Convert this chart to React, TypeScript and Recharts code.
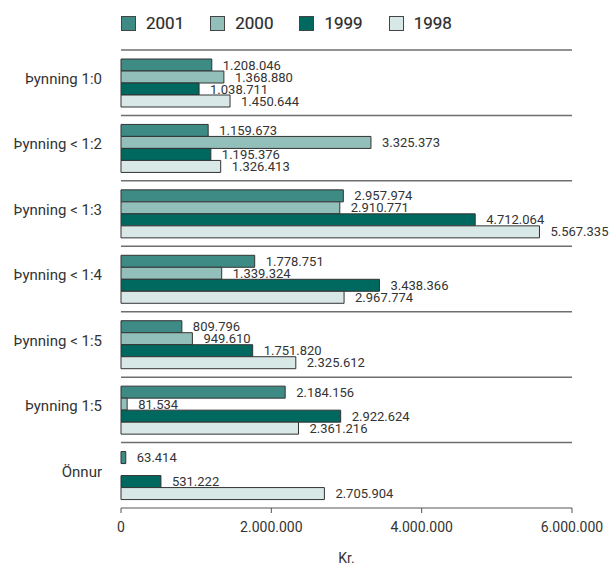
import React from 'react';
import { BarChart, Bar, XAxis, YAxis, CartesianGrid, LabelList } from 'recharts';

const categories = [
  'Þynning 1:0',
  'Þynning < 1:2',
  'Þynning < 1:3',
  'Þynning < 1:4',
  'Þynning < 1:5',
  'Þynning 1:5',
  'Önnur',
];

const years = ['2001', '2000', '1999', '1998'];
const colors = ['#3d8b84', '#93bfbb', '#00695f', '#d8e8e7'];

const v2001 = [1208046, 1159673, 2957974, 1778751, 809796, 2184156, 63414];
const v2000 = [1368880, 3325373, 2910771, 1339324, 949610, 81534, null];
const v1999 = [1038711, 1195376, 4712064, 3438366, 1751820, 2922624, 531222];
const v1998 = [1450644, 1326413, 5567335, 2967774, 2325612, 2361216, 2705904];

const xTicks = [0, 2000000, 4000000, 6000000];

const seriesValues = [v2001, v2000, v1999, v1998];

const chartData = categories.map((name, i) => {
  const row: Record<string, any> = { name };
  years.forEach((y, k) => {
    row[y] = seriesValues[k][i];
  });
  return row;
});

const fmt = (n: any) => {
  if (n === null || n === undefined || n === '') return '';
  return String(n).replace(/\B(?=(\d{3})+(?!\d))/g, '.');
};

const FONT = 'Roboto, "Noto Sans", sans-serif';

const Legend = () => (
  <div
    style={{
      position: 'absolute',
      left: 121,
      top: 14,
      display: 'flex',
      alignItems: 'center',
      fontFamily: FONT,
      fontSize: 17,
      fontWeight: 400,
      color: '#2b2b2b',
      WebkitTextStroke: '0.2px #2b2b2b',
    }}
  >
    {years.map((y, i) => (
      <div key={y} style={{ display: 'flex', alignItems: 'center', marginRight: 26 }}>
        <span
          style={{
            width: 13,
            height: 13,
            background: colors[i],
            border: '1px solid #444',
            marginRight: 10,
            display: 'inline-block',
          }}
        />
        <span style={{ lineHeight: '18px' }}>{y}</span>
      </div>
    ))}
  </div>
);

export default function App() {
  return (
    <div style={{ position: 'absolute', left: 0, top: 0, width: 609, height: 565, background: '#fff' }}>
      <Legend />
      <BarChart
        width={609}
        height={565}
        data={chartData}
        layout="vertical"
        margin={{ top: 50, right: 37, bottom: 0, left: 0 }}
        barSize={12}
        barGap={0}
        style={{ fontFamily: FONT }}
      >
        <CartesianGrid
          vertical={false}
          stroke="#6e6e6e"
          strokeWidth={1.5}
          horizontalCoordinatesGenerator={({ offset }: any) =>
            categories.map((_, i) => offset.top + (i * offset.height) / categories.length)
          }
        />
        <XAxis
          type="number"
          domain={[0, 6000000]}
          ticks={xTicks}
          tickFormatter={fmt}
          height={57}
          stroke="#555"
          tickSize={5}
          tickMargin={9}
          tick={{ fontSize: 14, fill: '#333', stroke: 'none' }}
          label={{ value: 'Kr.', position: 'insideBottom', offset: 2, fontSize: 14, fill: '#333' }}
        />
        <YAxis
          type="category"
          dataKey="name"
          width={121}
          axisLine={false}
          tickLine={false}
          tickMargin={13}
          tick={{ fontSize: 15, fill: '#333', stroke: 'none', dy: -4 }}
        />
        {years.map((y, i) => (
          <Bar
            key={y}
            dataKey={y}
            fill={colors[i]}
            stroke="#333"
            strokeWidth={1}
            isAnimationActive={false}
          >
            <LabelList
              dataKey={y}
              position="right"
              offset={11}
              formatter={fmt}
              style={{ fontSize: 13, fill: '#333', stroke: 'none' }}
            />
          </Bar>
        ))}
      </BarChart>
    </div>
  );
}
